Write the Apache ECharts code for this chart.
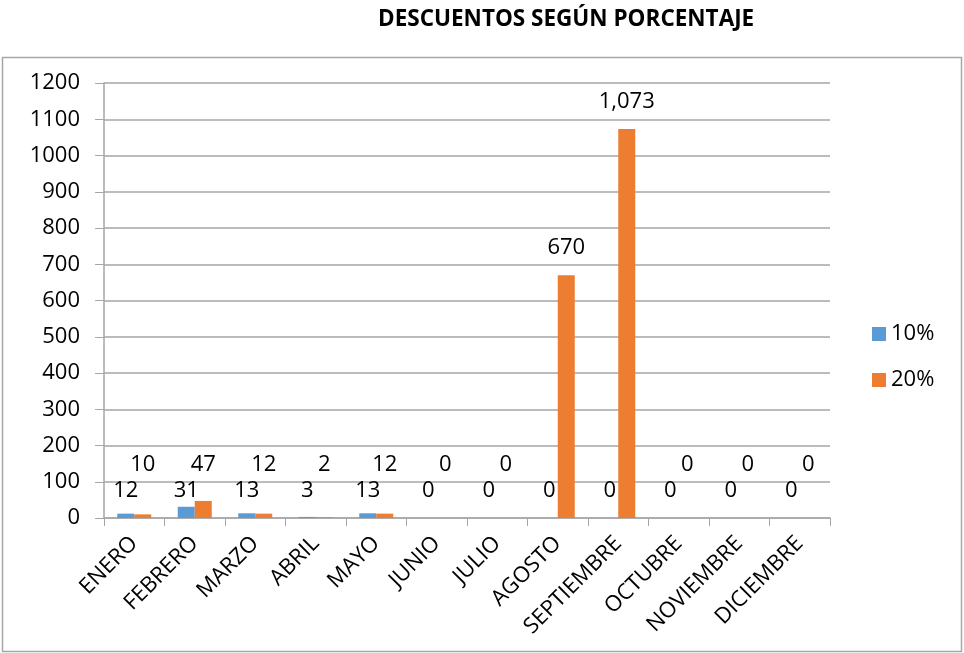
<!DOCTYPE html>
<html>
<head>
<meta charset="utf-8">
<script src="https://cdn.jsdelivr.net/npm/echarts@6/dist/echarts.min.js"></script>
<style>
html, body { margin: 0; padding: 0; background: #fff; }
#chart { width: 964px; height: 653px; }
</style>
</head>
<body>
<div id="chart"></div>
<script>
// datos
var meses = ['ENERO', 'FEBRERO', 'MARZO', 'ABRIL', 'MAYO', 'JUNIO', 'JULIO', 'AGOSTO', 'SEPTIEMBRE', 'OCTUBRE', 'NOVIEMBRE', 'DICIEMBRE'];
var series10 = [12, 31, 13, 3, 13, 0, 0, 0, 0, 0, 0, 0];
var series20 = [10, 47, 12, 2, 12, 0, 0, 670, 1073, 0, 0, 0];
var nombres = ['10%', '20%'];

var fuente = '"Open Sans", sans-serif';
var chart = echarts.init(document.getElementById('chart'));

function fmt(p) {
    return Number(p.value).toLocaleString('en-US');
}

// px por unidad del eje (435 px para 1200)
var escala = 435 / 1200;

// etiquetas pequeñas a la misma altura, como en el original
var datos10 = series10.map(function(v) {
    return {value: v, label: {distance: Math.max(2, 16 - v * escala)}};
});
var datos20 = series20.map(function(v) {
    return {value: v, label: {distance: v < 100 ? Math.max(4, 42 - v * escala) : 16}};
});

chart.setOption({
    animation: false,
    title: {
        text: 'DESCUENTOS SEGÚN PORCENTAJE',
        left: 373,
        top: 3,
        textStyle: {fontFamily: fuente, fontSize: 22.5, fontWeight: 'bold', color: '#000'}
    },
    graphic: [{
        type: 'rect',
        shape: {x: 2.5, y: 57.5, width: 959, height: 594},
        style: {fill: 'none', stroke: '#a6a6a6', lineWidth: 1.5},
        silent: true
    }],
    legend: {
        data: nombres,
        orient: 'vertical',
        left: 867,
        top: 318,
        itemWidth: 14,
        itemHeight: 14,
        itemGap: 24,
        icon: 'rect',
        textStyle: {fontFamily: fuente, fontSize: 22, color: '#000'}
    },
    grid: {left: 104, right: 134, top: 83, bottom: 135},
    xAxis: {
        type: 'category',
        data: meses,
        axisLine: {lineStyle: {color: '#a6a6a6', width: 1.5}},
        axisTick: {show: true, length: 8, lineStyle: {color: '#a6a6a6'}},
        axisLabel: {
            interval: 0,
            rotate: 45,
            margin: 22,
            fontFamily: fuente,
            fontSize: 22,
            color: '#000'
        }
    },
    yAxis: {
        type: 'value',
        min: 0,
        max: 1200,
        interval: 100,
        axisLine: {show: true, lineStyle: {color: '#a6a6a6', width: 1.5}},
        axisTick: {show: true, length: 9, lineStyle: {color: '#a6a6a6'}},
        splitLine: {lineStyle: {color: '#a6a6a6', width: 1.5}},
        axisLabel: {
            margin: 24, fontFamily: fuente, fontSize: 22, color: '#000',
            formatter: function(v) { return String(v); }
        }
    },
    series: [{
        name: nombres[0],
        type: 'bar',
        data: datos10,
        barWidth: 17,
        barGap: '0%',
        itemStyle: {color: '#5b9bd5'},
        label: {
            show: true, position: 'top',
            fontFamily: fuente, fontSize: 22, color: '#000',
            formatter: fmt
        }
    }, {
        name: nombres[1],
        type: 'bar',
        data: datos20,
        barWidth: 17,
        barGap: '0%',
        itemStyle: {color: '#ed7d31'},
        label: {
            show: true, position: 'top',
            fontFamily: fuente, fontSize: 22, color: '#000',
            formatter: fmt
        }
    }]
});
</script>
</body>
</html>
